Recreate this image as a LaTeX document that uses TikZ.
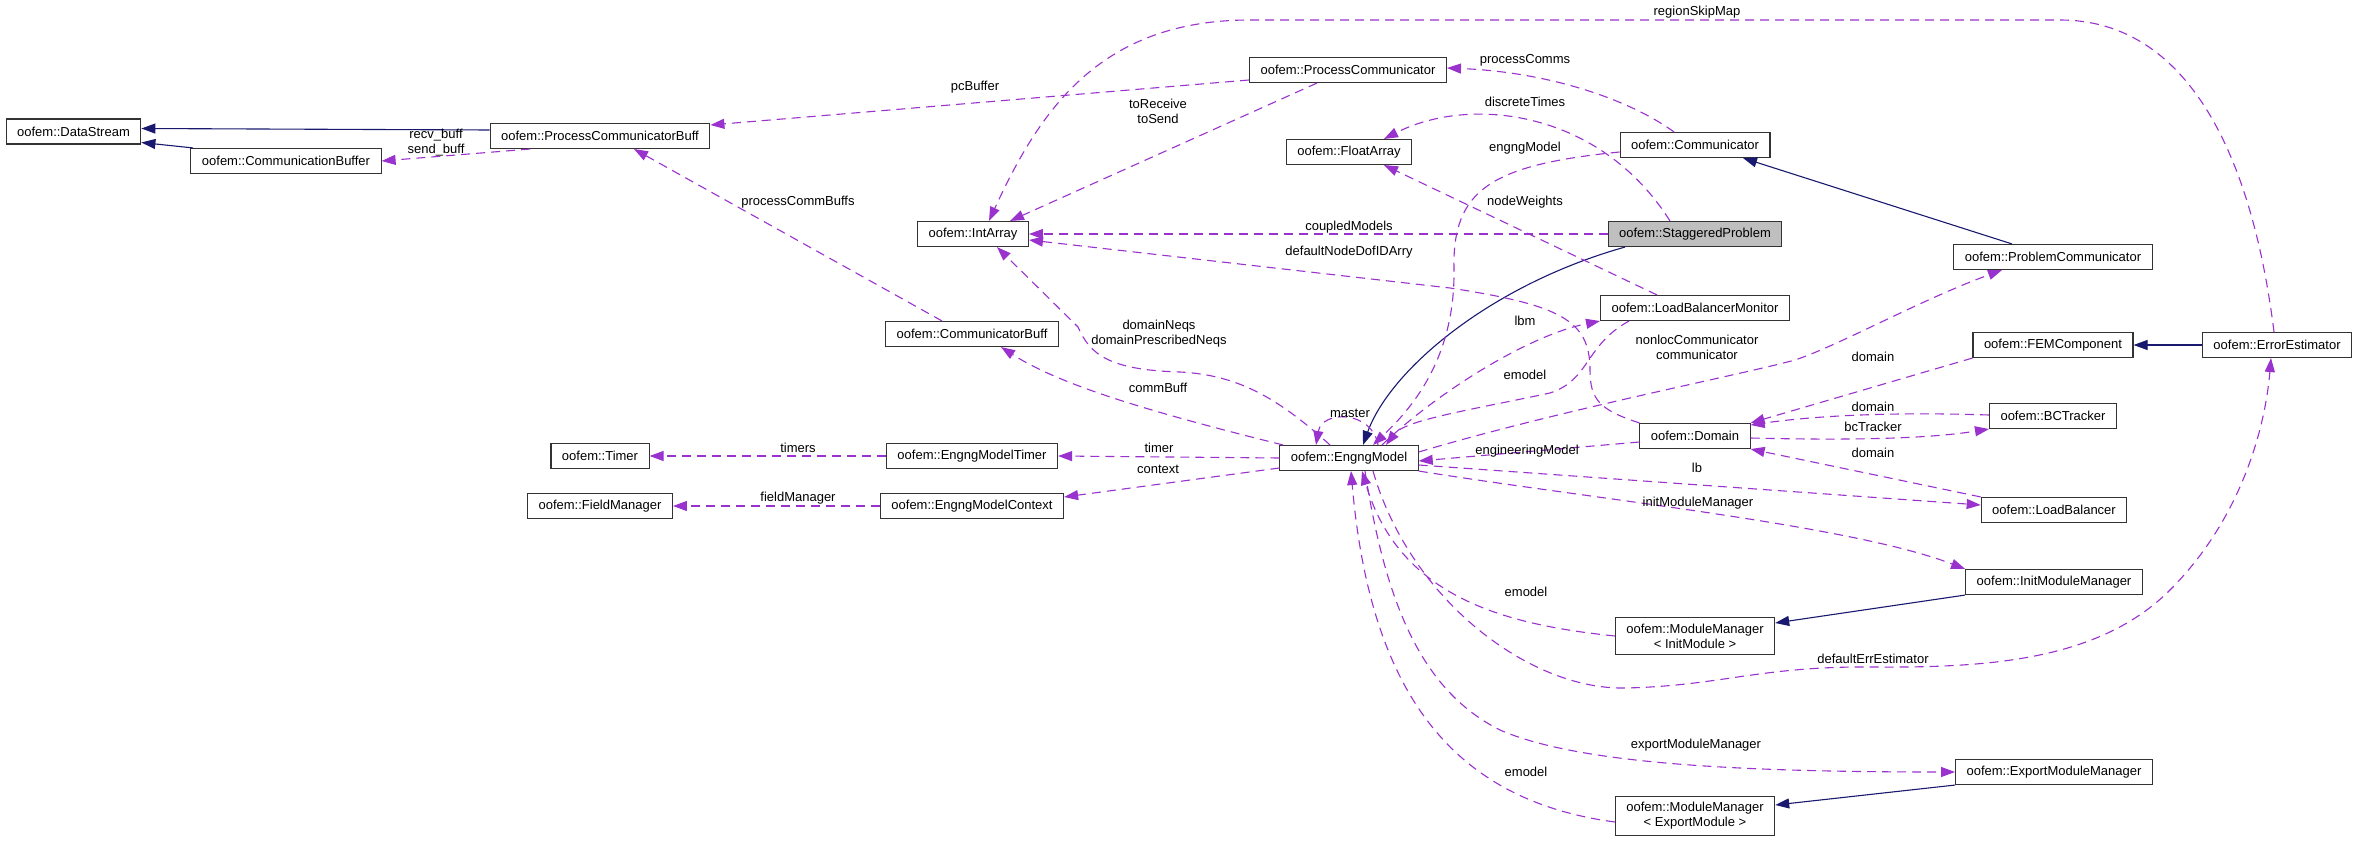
\documentclass[tikz,border=0pt]{standalone}
\usepackage{fontspec}
\setmainfont{Liberation Sans}
\usetikzlibrary{arrows.meta}
\definecolor{edgepurple}{HTML}{9A32CD}
\definecolor{edgenavy}{HTML}{191970}
\tikzset{
	cls/.style={draw=black!80, line width=1.1pt, fill=white, minimum height=25pt, inner xsep=11pt, inner ysep=6pt, align=center, font=\fontsize{13}{15}\selectfont},
	focus/.style={cls, fill=black!25},
	member/.style={draw=edgepurple, line width=1.1pt, dash pattern=on 9pt off 6pt, -{Triangle[length=14pt,width=10pt]}},
	inherit/.style={draw=edgenavy, line width=1.1pt, -{Triangle[length=14pt,width=10pt]}},
	lbl/.style={inner sep=0pt, align=center, font=\fontsize{13}{15}\selectfont},
}
\begin{document}
\begin{tikzpicture}[x=1pt, y=-1pt]
		\path[fill=white, use as bounding box] (0,0) rectangle (2359,842);
		\node[cls] (ds) at (73.5,131.5) {oofem::DataStream};
		\node[cls] (cbuf) at (286,161) {oofem::CommunicationBuffer};
		\node[cls] (pcb) at (600,136) {oofem::ProcessCommunicatorBuff};
		\node[cls] (pc) at (1348,70) {oofem::ProcessCommunicator};
		\node[cls] (fa) at (1349,152) {oofem::FloatArray};
		\node[cls] (comm) at (1695,145) {oofem::Communicator};
		\node[cls] (ia) at (973,234) {oofem::IntArray};
		\node[focus] (sp) at (1695,234) {oofem::StaggeredProblem};
		\node[cls] (prc) at (2053,257) {oofem::ProblemCommunicator};
		\node[cls] (lbm) at (1695,308) {oofem::LoadBalancerMonitor};
		\node[cls] (cb) at (972,334) {oofem::CommunicatorBuff};
		\node[cls] (fem) at (2053,345) {oofem::FEMComponent};
		\node[cls] (ee) at (2277,345) {oofem::ErrorEstimator};
		\node[cls] (bct) at (2053,416) {oofem::BCTracker};
		\node[cls] (dom) at (1695,436) {oofem::Domain};
		\node[cls] (em) at (1349,458) {oofem::EngngModel};
		\node[cls] (emt) at (972,456) {oofem::EngngModelTimer};
		\node[cls] (emc) at (972,506) {oofem::EngngModelContext};
		\node[cls] (tim) at (600,456) {oofem::Timer};
		\node[cls] (fm) at (600,506) {oofem::FieldManager};
		\node[cls] (lb) at (2054,510) {oofem::LoadBalancer};
		\node[cls] (imm) at (2054,582) {oofem::InitModuleManager};
		\node[cls] (mmi) at (1695,636) {oofem::ModuleManager\\< InitModule >};
		\node[cls] (emm) at (2054,772) {oofem::ExportModuleManager};
		\node[cls] (mme) at (1695,816) {oofem::ModuleManager\\< ExportModule >};
		\draw[inherit] ([yshift=6pt]pcb.west) -- ([yshift=3pt]ds.east);
		\draw[inherit] ([xshift=-93pt]cbuf.north) -- ([yshift=-11pt]ds.east);
		\draw[inherit] ([xshift=-41pt]prc.north) -- ([xshift=48pt]comm.south);
		\draw[inherit] (ee.west) -- (fem.east);
		\draw[inherit] ([xshift=-70pt]sp.south) .. controls (1490,285) and (1390,370) .. ([xshift=14pt]em.north);
		\draw[inherit] (imm.south west) -- ([yshift=13pt]mmi.east);
		\draw[inherit] (emm.south west) -- ([yshift=11pt]mme.east);
		\draw[member] ([xshift=-70pt]pcb.south) -- (cbuf.east);
		\draw[member] ([yshift=-10pt]pc.west) -- ([yshift=11pt]pcb.east);
		\draw[member] ([xshift=-30pt]cb.north) -- ([xshift=34pt]pcb.south);
		\draw[member] ([xshift=-31pt]pc.south) -- ([xshift=37pt]ia.north);
		\draw[member] ([xshift=-3pt]ee.north) .. controls (2250,140) and (2180,20) .. (2060,20) -- (1250,20) .. controls (1100,20) and (1040,110) .. ([xshift=16pt]ia.north);
		\draw[member] ([xshift=-21pt]comm.north) .. controls (1630,100) and (1550,72) .. ([yshift=2pt]pc.east);
		\draw[member] ([xshift=-25pt]sp.north) .. controls (1600,110) and (1470,95) .. ([xshift=35pt]fa.north);
		\draw[member] ([xshift=-38pt]lbm.north) -- ([xshift=35pt]fa.south);
		\draw[member] (sp.west) -- (ia.east);
		\draw[member] (dom.north west) .. controls (1600,410) and (1590,400) .. (1590,370) .. controls (1590,320) and (1560,305) .. (1450,288) -- ([yshift=-6pt]ia.east);
		\draw[member] ([yshift=-7pt]comm.west) .. controls (1490,165) and (1452,190) .. (1454,270) .. controls (1455,360) and (1410,410) .. ([xshift=24pt]em.north);
		\draw[member] ([xshift=-66pt]lbm.south) .. controls (1585,345) and (1590,380) .. (1550,393) .. controls (1470,410) and (1405,420) .. ([xshift=37pt]em.north);
		\draw[member] ([xshift=33pt]em.north) .. controls (1440,390) and (1530,335) .. (lbm.south west);
		\draw[member] ([xshift=29pt]em.north) .. controls (1372,410) and (1322,410) .. ([xshift=-33pt]em.north);
		\draw[member] ([xshift=-66pt]em.north) .. controls (1150,412) and (1060,385) .. ([xshift=29pt]cb.south);
		\draw[member] ([xshift=-19pt]em.north) .. controls (1280,400) and (1240,375) .. (1180,372) .. controls (1110,370) and (1090,355) .. (1078,327) -- ([xshift=24pt]ia.south);
		\draw[member] (em.west) -- (emt.east);
		\draw[member] ([yshift=-10pt]em.west) -- ([yshift=9pt]emc.east);
		\draw[member] (emt.west) -- (tim.east);
		\draw[member] (emc.west) -- (fm.east);
		\draw[member] ([yshift=6pt]em.east) .. controls (1560,410) and (1740,375) .. (1795,360) .. controls (1840,345) and (1920,300) .. ([xshift=-51pt]prc.south);
		\draw[member] ([yshift=-6pt]dom.west) -- ([yshift=-3pt]em.east);
		\draw[member] ([yshift=-7pt]em.east) -- ([yshift=5pt]lb.west);
		\draw[member] (lb.north west) -- (dom.south east);
		\draw[member] ([yshift=1pt]bct.west) .. controls (1900,412) and (1820,415) .. ([yshift=11pt]dom.east);
		\draw[member] ([yshift=-2pt]dom.east) .. controls (1830,440) and (1920,440) .. (bct.south west);
		\draw[member] (fem.south west) -- (dom.north east);
		\draw[member] (em.south east) .. controls (1600,500) and (1850,525) .. (imm.north west);
		\draw[member] (mmi.west) .. controls (1510,625) and (1400,600) .. ([xshift=13pt]em.south);
		\draw[member] ([yshift=-6pt]mme.west) .. controls (1450,800) and (1370,690) .. ([xshift=2pt]em.south);
		\draw[member] ([xshift=16pt]em.south) .. controls (1385,600) and (1420,690) .. (1500,730) .. controls (1580,765) and (1750,772) .. (emm.west);
		\draw[member] ([xshift=24pt]em.south) .. controls (1410,600) and (1530,690) .. (1625,688) .. controls (1720,686) and (1760,666) .. (1872,667) .. controls (1990,668) and (2100,660) .. (2170,590) .. controls (2240,520) and (2265,430) .. ([xshift=-6pt]ee.south);
		\node[lbl] (l-regionskipmap) at (1697,12) {regionSkipMap};
		\node[lbl] (l-processcomms) at (1525,60) {processComms};
		\node[lbl] (l-pcbuffer) at (975,87) {pcBuffer};
		\node[lbl] (l-discretetimes) at (1525,102) {discreteTimes};
		\node[lbl] (l-toreceive) at (1158,111) {toReceive\\toSend};
		\node[lbl] (l-recvbuff) at (436,143) {recv\_buff\\send\_buff};
		\node[lbl] (l-engngmodel) at (1525,148) {engngModel};
		\node[lbl] (l-processcommbuffs) at (798,202) {processCommBuffs};
		\node[lbl] (l-nodeweights) at (1525,202) {nodeWeights};
		\node[lbl] (l-coupledmodels) at (1349,227) {coupledModels};
		\node[lbl] (l-defaultnodedofidarry) at (1349,252) {defaultNodeDofIDArry};
		\node[lbl] (l-lbm) at (1525,321) {lbm};
		\node[lbl] (l-domainneqs) at (1159,334) {domainNeqs\\domainPrescribedNeqs};
		\node[lbl] (l-communicator) at (1697,347) {nonlocCommunicator\\communicator};
		\node[lbl] (l-domainfem) at (1873,357) {domain};
		\node[lbl] (l-emodellbm) at (1525,375) {emodel};
		\node[lbl] (l-commbuff) at (1158,388) {commBuff};
		\node[lbl] (l-domainbct) at (1873,407) {domain};
		\node[lbl] (l-master) at (1350,413) {master};
		\node[lbl] (l-bctracker) at (1873,427) {bcTracker};
		\node[lbl] (l-timers) at (798,448) {timers};
		\node[lbl] (l-timer) at (1159,448) {timer};
		\node[lbl] (l-engineeringmodel) at (1527,451) {engineeringModel};
		\node[lbl] (l-domainlb) at (1873,453) {domain};
		\node[lbl] (l-lb) at (1697,468) {lb};
		\node[lbl] (l-context) at (1158,469) {context};
		\node[lbl] (l-fieldmanager) at (798,498) {fieldManager};
		\node[lbl] (l-initmodulemanager) at (1698,503) {initModuleManager};
		\node[lbl] (l-emodelinit) at (1526,592) {emodel};
		\node[lbl] (l-defaulterrestimator) at (1873,659) {defaultErrEstimator};
		\node[lbl] (l-exportmodulemanager) at (1696,745) {exportModuleManager};
		\node[lbl] (l-emodelexport) at (1526,772) {emodel};
\end{tikzpicture}
\end{document}
